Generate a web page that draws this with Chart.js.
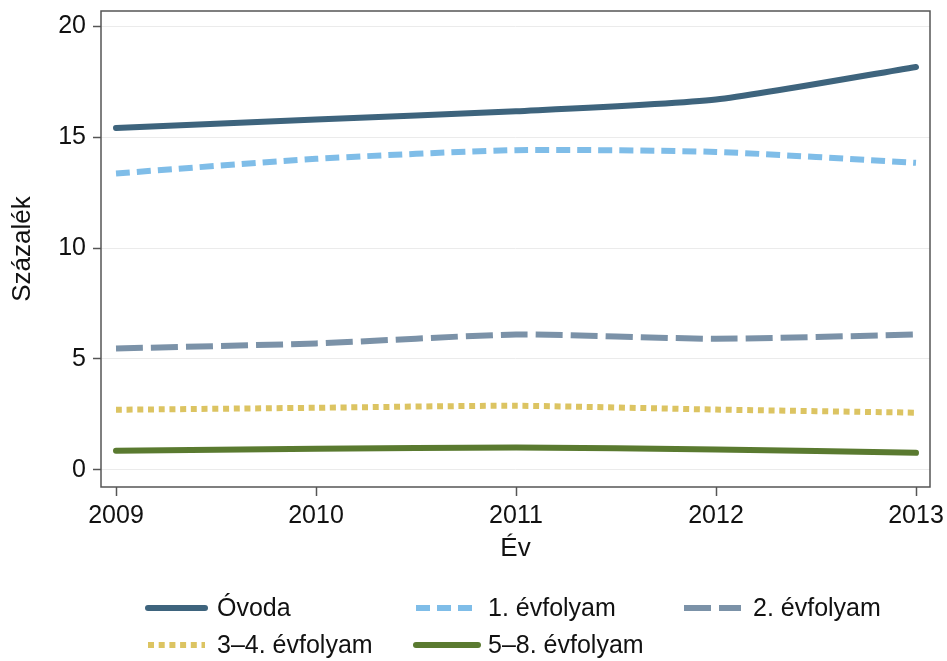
<!DOCTYPE html>
<html>
<head>
<meta charset="utf-8">
<script src="https://cdn.jsdelivr.net/npm/chart.js@4/dist/chart.umd.min.js"></script>
<style>
html,body{margin:0;padding:0;background:#fff;}
#wrap{width:947px;height:661px;position:relative;}
</style>
</head>
<body>
<div id="wrap"><canvas id="c" width="947" height="661"></canvas></div>
<script>
const years = [2009, 2010, 2011, 2012, 2013];
const yTicks = [0, 5, 10, 15, 20];
const ovoda = [15.41, 15.79, 16.16, 16.69, 18.16];
const evf1 = [13.36, 14.02, 14.41, 14.33, 13.84];
const evf2 = [5.47, 5.70, 6.10, 5.91, 6.10];
const evf34 = [2.71, 2.80, 2.89, 2.72, 2.58];
const evf58 = [0.86, 0.95, 1.01, 0.92, 0.77];
const seriesNames = ['Óvoda', '1. évfolyam', '2. évfolyam', '3–4. évfolyam', '5–8. évfolyam'];

const FONT = "'Liberation Sans', Arial, sans-serif";
const styles = [
  {color:'#3e647d', dash:[], cap:'round'},
  {color:'#7fbde8', dash:[14,7], cap:'butt'},
  {color:'#7b92a8', dash:[27,8], cap:'butt'},
  {color:'#dcc462', dash:[6,4.7], cap:'butt'},
  {color:'#5a7a30', dash:[], cap:'round'}
];
const allData = [ovoda, evf1, evf2, evf34, evf58];

const datasets = allData.map((arr, i) => ({
  label: seriesNames[i],
  data: arr.map((v, j) => ({x: years[j], y: v})),
  borderColor: styles[i].color,
  backgroundColor: styles[i].color,
  borderWidth: 6,
  borderDash: styles[i].dash,
  borderCapStyle: styles[i].cap,
  borderJoinStyle: 'round',
  pointRadius: 0,
  tension: 0.2,
  fill: false
}));

const framePlugin = {
  id: 'frame',
  afterDatasetsDraw(chart) {
    const {ctx, chartArea: a} = chart;
    ctx.save();
    ctx.strokeStyle = '#555';
    ctx.lineWidth = 1.5;
    ctx.strokeRect(a.left, a.top, a.right - a.left, a.bottom - a.top);
    ctx.restore();
  },
  afterDraw(chart) {
    const ctx = chart.ctx;
    const pos = [
      {x1:148, x2:205, tx:217, y:608},
      {x1:416, x2:478, tx:488, y:608},
      {x1:684, x2:741, tx:753, y:608},
      {x1:148, x2:205, tx:217, y:645},
      {x1:416, x2:478, tx:488, y:645}
    ];
    ctx.save();
    chart.data.datasets.forEach((ds, i) => {
      const p = pos[i];
      ctx.beginPath();
      ctx.strokeStyle = ds.borderColor;
      ctx.lineWidth = 6;
      ctx.setLineDash(ds.borderDash);
      ctx.lineCap = ds.borderCapStyle;
      ctx.moveTo(p.x1, p.y);
      ctx.lineTo(p.x2, p.y);
      ctx.stroke();
      ctx.setLineDash([]);
      ctx.fillStyle = '#111';
      ctx.font = '25px ' + FONT;
      ctx.textBaseline = 'middle';
      ctx.textAlign = 'left';
      ctx.fillText(ds.label, p.tx, p.y + 1);
    });
    ctx.restore();
  }
};

new Chart(document.getElementById('c'), {
  type: 'line',
  data: {datasets},
  plugins: [framePlugin],
  options: {
    responsive: false,
    animation: false,
    layout: {padding: {top: 11, right: 17, left: 0, bottom: 94}},
    plugins: {legend: {display: false}, tooltip: {enabled: false}},
    scales: {
      x: {
        type: 'linear',
        min: 2008.925,
        max: 2013.07,
        afterBuildTicks: s => { s.ticks = years.map(v => ({value: v})); },
        afterFit: s => { s.height = 80; s.paddingLeft = 0; s.paddingRight = 0; },
        grid: {drawOnChartArea: false, tickLength: 9, tickColor: '#555', tickWidth: 1.5},
        border: {display: false},
        ticks: {font: {family: FONT, size: 25}, color: '#111', padding: 5, maxRotation: 0,
                callback: v => String(v)},
        title: {display: true, text: 'Év', font: {family: FONT, size: 26}, color: '#111',
                padding: {top: 0, bottom: 3}}
      },
      y: {
        type: 'linear',
        min: -0.77,
        max: 20.68,
        afterBuildTicks: s => { s.ticks = yTicks.map(v => ({value: v})); },
        afterFit: s => { s.width = 101; s.paddingTop = 0; s.paddingBottom = 0; },
        grid: {color: '#ebebeb', lineWidth: 1, tickLength: 8, tickColor: '#555', tickWidth: 1.5},
        border: {display: false},
        ticks: {font: {family: FONT, size: 25}, color: '#111', padding: 7,
                callback: v => String(v)},
        title: {display: true, text: 'Százalék', font: {family: FONT, size: 26}, color: '#111',
                padding: {top: 7, bottom: 0}}
      }
    }
  }
});
</script>
</body>
</html>
